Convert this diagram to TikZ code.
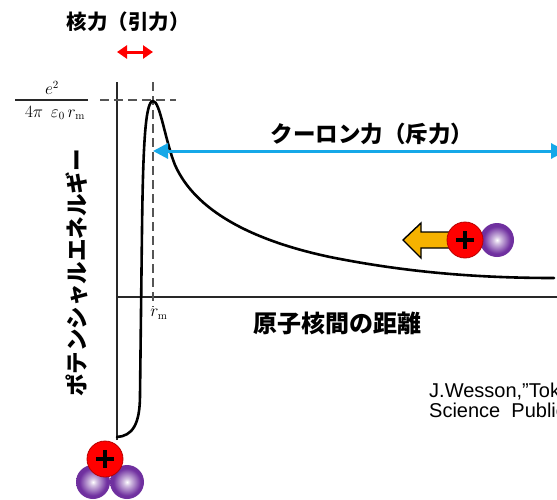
\documentclass[tikz,border=0pt]{standalone}
\usepackage{fontspec}
\usetikzlibrary{arrows.meta}
\newfontfamily\jpfont{Noto Sans CJK JP}
\newfontfamily\citefont{Liberation Sans}

\definecolor{axisgrey}{RGB}{40,40,40}
\definecolor{dashgrey}{RGB}{85,85,85}
\definecolor{arrowblue}{RGB}{22,168,232}
\definecolor{nucred}{RGB}{255,0,0}
\definecolor{purp}{RGB}{112,48,160}
\definecolor{amber}{RGB}{246,178,0}

\pgfdeclareradialshading{purpleball}{\pgfpoint{0bp}{0bp}}{%
  color(0bp)=(white); color(5bp)=(purp!30!white); color(20bp)=(purp);
  color(50bp)=(purp!92!black)}

\tikzset{
  axisline/.style={draw=axisgrey, line width=1.4pt},
  guide/.style={draw=dashgrey, line width=1.3pt, dash pattern=on 9pt off 5pt},
  potential/.style={draw=black, line width=2.6pt, line cap=round, line join=round},
  jplabel/.style={font=\jpfont\bfseries, inner sep=0pt},
  mathlabel/.style={font=\fontsize{16}{18}\selectfont, inner sep=0pt},
  citeline/.style={font=\citefont\fontsize{20}{22}\selectfont, inner sep=0pt, anchor=base west},
  proton/.style={circle, minimum size=36pt, inner sep=0pt, fill=nucred,
    draw=red!72!black, line width=0.8pt,
    path picture={
      \draw[black, line width=4pt]
        ([xshift=-9pt]path picture bounding box.center) --
        ([xshift=9pt]path picture bounding box.center);
      \draw[black, line width=4pt]
        ([yshift=-9pt]path picture bounding box.center) --
        ([yshift=9pt]path picture bounding box.center);}},
  neutron/.style={circle, minimum size=34pt, inner sep=0pt, shading=purpleball},
  forcearrow/.style={line width=3pt, draw=#1},
}

\begin{document}
\begin{tikzpicture}[x=1pt, y=-1pt]
  \useasboundingbox (0,0) rectangle (557,499);
  \clip (0,0) rectangle (557,499);
  \fill[white] (0,0) rectangle (557,499);

  % axes
  \coordinate (origin) at (117,297);
  \coordinate (ytop) at (117,82);
  \coordinate (ybot) at (117,440);
  \coordinate (xend) at (557,297);
  \draw[axisline] (ybot) -- (ytop);
  \draw[axisline] (origin) -- (xend);

  % dashed guides through the barrier top
  \coordinate (hl) at (100,100);
  \coordinate (hr) at (176,100);
  \coordinate (vt) at (153,82);
  \coordinate (vb) at (153,307);
  \draw[guide] (hl) -- (hr);
  \draw[guide] (vt) -- (vb);

  % barrier height e^2/(4 pi eps0 rm)
  \coordinate (fl) at (15,100);
  \coordinate (fr) at (88,100);
  \draw[axisline, line width=1.2pt] (fl) -- (fr);
  \node[mathlabel] (num) at (52,88) {$e^{2}$};
  \node[mathlabel] (den) at (55,113) {$4\pi\;\,\varepsilon_{0}\,r_{\mathrm{m}}$};
  \node[mathlabel] (rm) at (159,314) {$r_{\mathrm{m}}$};

  % potential energy curve
  \draw[potential] (117,437) .. controls (132,436) and (140,425) .. (140,395)
    -- (142,230) .. controls (143,150) and (145,101) .. (153,101)
    .. controls (160,101) and (165,140) .. (175,165)
    .. controls (195,210) and (250,240) .. (330,257)
    .. controls (400,271) and (470,278) .. (554,278);

  % nuclear (attractive) force range
  \coordinate (nl) at (117,52);
  \coordinate (nr) at (153,52);
  \draw[forcearrow=red, {Triangle[length=10pt,width=13pt]}-{Triangle[length=10pt,width=13pt]}] (nl) -- (nr);
  \node[jplabel, font=\jpfont\bfseries\fontsize{20.5}{22}\selectfont] (nuclear) at (128,22) {核力（引力）};

  % Coulomb (repulsive) force range
  \coordinate (cl) at (153,151);
  \coordinate (cr) at (566,151);
  \draw[forcearrow=arrowblue, {Triangle[length=15pt,width=15pt]}-{Triangle[length=15pt,width=15pt]}] (cl) -- (cr);
  \node[jplabel, font=\jpfont\bfseries\fontsize{22.5}{24}\selectfont] (coulomb) at (372,134) {クーロン力（斥力）};

  % axis titles
  \node[jplabel, font=\jpfont\bfseries\fontsize{24}{26}\selectfont] (xlabel) at (337,323) {原子核間の距離};
  \node[jplabel, font=\jpfont\bfseries\fontsize{22.5}{24}\selectfont, rotate=90] (ylabel) at (77,273) {ポテンシャルエネルギー};

  % approaching nucleus with its motion arrow
  \draw[fill=amber, line width=1.4pt, line join=miter]
    (452,232) -- (421,232) -- (421,223) -- (403,240) -- (421,258) -- (421,248) -- (452,248) -- cycle;
  \node[neutron] (n1) at (497,240) {};
  \node[proton] (p1) at (465,240) {};

  % fused nucleus at the bottom of the well
  \node[neutron] (n2) at (127,482) {};
  \node[neutron] (n3) at (93,482) {};
  \node[proton] (p2) at (105,459) {};

  % source
  \node[citeline] (cite1) at (429,397) {J.Wesson,”Tokamaks”,};
  \node[citeline] (cite2) at (429,417) {Science\ \ Publications};
\end{tikzpicture}
\end{document}
